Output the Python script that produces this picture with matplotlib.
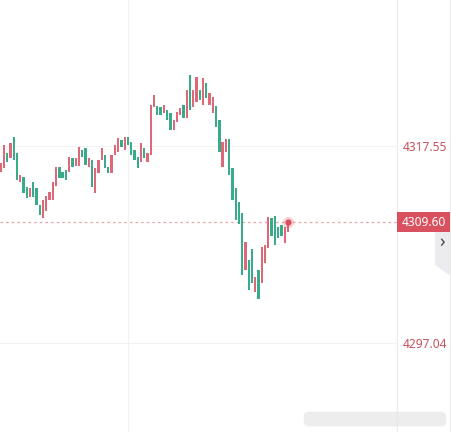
import matplotlib
matplotlib.use('Agg')
import matplotlib.pyplot as plt
import matplotlib.patches as patches
from matplotlib.lines import Line2D
import numpy as np

plt.rcParams['font.family'] = ['Noto Sans', 'DejaVu Sans']

# === данные свечей (open / close) ===
opens = [4314.84, 4315.26, 4316.82, 4316.30, 4318.49, 4316.82, 4313.80, 4314.32, 4313.28, 4312.24,
         4313.80, 4313.18, 4311.41, 4310.05, 4310.78, 4311.93, 4311.93, 4313.39, 4315.36, 4314.84,
         4315.05, 4314.84, 4316.30, 4315.47, 4315.47, 4317.13, 4317.34, 4315.36, 4316.09, 4312.66,
         4314.74, 4316.09, 4316.61, 4315.36, 4314.74, 4316.61, 4316.93, 4318.18, 4317.13, 4318.49,
         4317.97, 4317.13, 4316.40, 4315.88, 4317.34, 4315.88, 4316.61, 4321.61, 4321.71, 4321.61,
         4320.99, 4321.30, 4320.99, 4319.22, 4320.05, 4320.78, 4321.82, 4320.47, 4324.94, 4321.61,
         4322.13, 4323.38, 4321.82, 4324.11, 4321.82, 4320.99, 4321.71, 4320.26, 4315.36, 4316.93,
         4318.28, 4315.26, 4313.18, 4311.72, 4310.58, 4304.64, 4305.68, 4306.83, 4302.35, 4304.64,
         4303.29, 4305.37, 4306.93, 4310.05, 4310.26, 4309.12, 4309.33, 4307.45, 4308.60]
closes = [4315.78, 4317.65, 4315.88, 4317.86, 4316.09, 4314.01, 4314.53, 4312.66, 4312.14, 4313.18,
          4312.24, 4311.41, 4310.37, 4311.93, 4312.35, 4312.76, 4313.80, 4315.36, 4314.22, 4314.22,
          4314.01, 4316.40, 4315.36, 4316.30, 4317.45, 4316.40, 4315.57, 4316.30, 4313.28, 4315.26,
          4316.09, 4317.34, 4315.26, 4314.74, 4316.61, 4317.65, 4318.38, 4317.45, 4318.49, 4317.65,
          4316.61, 4316.09, 4315.26, 4317.86, 4316.30, 4316.82, 4321.82, 4322.86, 4320.78, 4320.78,
          4321.82, 4320.26, 4319.22, 4320.26, 4321.09, 4321.51, 4320.47, 4323.38, 4321.30, 4323.38,
          4324.73, 4322.34, 4324.63, 4322.55, 4323.07, 4322.65, 4319.53, 4316.93, 4317.97, 4318.28,
          4314.53, 4311.93, 4309.85, 4309.43, 4304.12, 4307.56, 4302.56, 4303.29, 4303.91, 4301.62,
          4307.04, 4307.24, 4310.16, 4308.18, 4307.24, 4307.97, 4308.18, 4309.12, 4309.60]

price_ticks = [4317.55, 4297.04]
last_price = 4309.60

UP = '#dc6878'
DOWN = '#38ab8b'
LABEL = '#d9505e'

opens = np.array(opens)
closes = np.array(closes)
x = np.arange(len(opens))
colors = [UP if c >= o else DOWN for o, c in zip(opens, closes)]

# === фигура ===
W, H = 452, 432
fig = plt.figure(figsize=(4.52, 4.32), dpi=100)
ax = fig.add_axes([0, 0, 397 / W, 1])

ymax = 4317.55 + 146 * 0.10411
ymin = 4317.55 - (432 - 146) * 0.10411
ax.set_ylim(ymin, ymax)
ax.set_xlim(-0.18, 121.4)

# сетка
for p in price_ticks:
    ax.axhline(p, color='#f2f2f2', lw=0.8, zorder=0)
ax.axvline(39, color='#f2f2f2', lw=0.8, zorder=0)

# свечи
h = closes - opens
h = np.where(np.abs(h) < 0.1, 0.1, h)
ax.bar(x, h, bottom=opens, width=0.7, color=colors, linewidth=0, zorder=2)

# линия текущей цены
ax.axhline(last_price, color='#eaa0a8', lw=0.9, ls=(0, (2, 2.5)), zorder=1)
ax.plot(x[-1], last_price, 'o', color=LABEL, ms=8, alpha=0.25, mec='none', zorder=3)
ax.plot(x[-1], last_price, 'o', color=LABEL, ms=4.5, mec='none', zorder=4)

# правая шкала цен
ax.yaxis.tick_right()
ax.set_yticks(price_ticks)
ax.set_yticklabels([f'{p:.2f}' for p in price_ticks])
ax.tick_params(axis='y', length=0, pad=4, labelsize=8.6, labelcolor='#c9515f')
ax.set_xticks([])
for s in ['top', 'bottom', 'left']:
    ax.spines[s].set_visible(False)
ax.spines['right'].set_color('#ebebeb')
ax.spines['right'].set_linewidth(0.8)

# метка текущей цены
ytop = ax.transData.transform((0, last_price))[1] / H
fig.add_artist(patches.Rectangle((397 / W, ytop - 10 / H), 53 / W, 20 / H,
                                 fc=LABEL, ec='none', transform=fig.transFigure, zorder=5))
fig.text(423.5 / W, ytop, f'{last_price:.2f}', color='white', fontsize=8.6,
         ha='center', va='center', zorder=6)

# серая вкладка справа
tab = patches.Polygon([(435 / W, 1 - 231 / H), (452 / W, 1 - 231 / H),
                       (452 / W, 1 - 277 / H), (435 / W, 1 - 265 / H)],
                      closed=True, fc='#ececf0', ec='none', transform=fig.transFigure)
fig.add_artist(tab)
fig.text(442 / W, 1 - 242 / H, '›', color='#444444', fontsize=13,
         ha='center', va='center')

fig.add_artist(Line2D([450 / W, 450 / W], [0, 1], color='#ebebeb', lw=0.8,
                      transform=fig.transFigure))

# размытый водяной знак внизу
wm = patches.FancyBboxPatch((305 / W, 1 - 425 / H), 140 / W, 12 / H,
                            boxstyle='round,pad=0.003,rounding_size=0.012',
                            fc='#e6e6e6', ec='none', alpha=0.7, transform=fig.transFigure)
fig.add_artist(wm)

fig.savefig('out.png', dpi=100, facecolor='white')
